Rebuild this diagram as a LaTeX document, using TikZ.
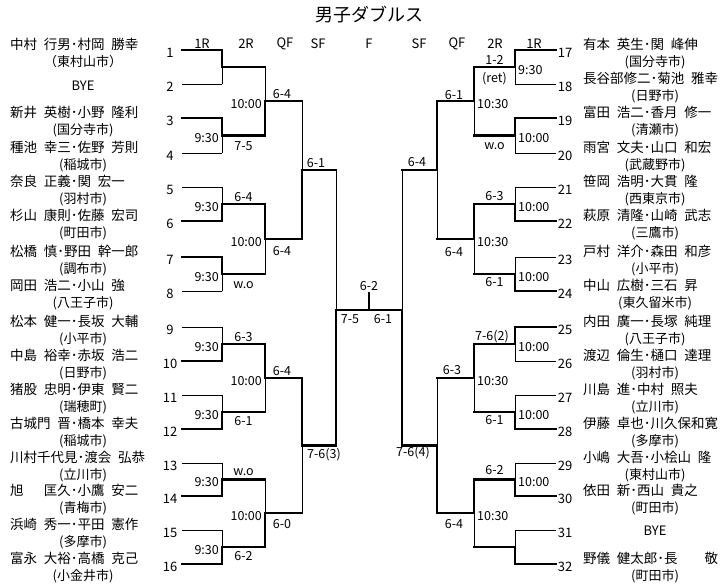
\documentclass[tikz,border=0pt]{standalone}
\usepackage{fontspec}
\setmainfont{Noto Sans CJK JP}
\begin{document}
\begin{tikzpicture}[x=1pt,y=-1pt,
    win/.style={line width=2.4pt,line cap=rect},
    lose/.style={line width=0.9pt},
    seed/.style={font=\fontsize{13}{13}\selectfont,inner sep=0pt},
    pair/.style={font={\fontsize{13.5}{13.5}\selectfont\spaceskip=.5em\relax},inner sep=0pt,anchor=west},
    town/.style={font=\fontsize{13}{13}\selectfont,inner sep=0pt},
    res/.style={font=\fontsize{12.5}{12.5}\selectfont,inner sep=0pt},
    clock/.style={font=\fontsize{12.5}{12.5}\selectfont,inner sep=0pt}]
    \fill[white] (0,0) rectangle (727,587);
    \useasboundingbox (0,0) rectangle (727,587);
    % title
    \node[font=\fontsize{18}{18}\selectfont,inner sep=0pt] (title) at (369,15) {男子ダブルス};
    % rounds
    \foreach \r/\x [count=\i] in {1R/202,2R/246,QF/285,SF/318,F/369,SF/419,QF/457,2R/495,1R/534}
        \node[seed] (rd\i) at (\x,44) {\r};
    % 1R lines, left
    \foreach \y/\w [count=\i] in {50/win,84/lose,118/win,153/lose,187/lose,221/win,257/win,291/lose,
            327/lose,361/win,395/lose,429/win,463/lose,496/win,530/lose,564/win}{
        \node[seed] (s\i) at (170,\y+3) {\i};
        \draw[\w] (182,\y) -- (222,\y);
    }
    % 1R lines, right
    \foreach \y/\w [count=\i from 17] in {50/win,84/lose,118/win,153/lose,187/lose,221/win,257/lose,291/win,
            327/win,361/lose,395/lose,429/win,463/lose,496/win,530/lose,564/win}{
        \node[seed] (s\i) at (565,\y+3) {\i};
        \draw[\w] (515,\y) -- (556,\y);
    }
    % matches: x / next x / top / bottom / winner
    \foreach \x/\nx/\ya/\yb/\yw in {
            222/265/50/84/50, 222/265/118/153/118, 222/265/187/221/221, 222/265/257/291/257,
            222/265/327/361/361, 222/265/395/429/429, 222/265/463/496/496, 222/265/530/564/564,
            265/302/67/135.5/135.5, 265/302/204/274/204, 265/302/344/412/344, 265/302/479.5/547/547,
            302/336/101.25/239/239, 302/336/378/513.25/378,
            515/474/50/84/50, 515/474/118/153/118, 515/474/187/221/221, 515/474/257/291/291,
            515/474/327/361/327, 515/474/395/429/429, 515/474/463/496/496, 515/474/530/564/564,
            474/437/67/135.5/67, 474/437/204/274/204, 474/437/344/412/344, 474/437/479.5/547/479.5,
            437/402/101.25/239/101.25, 437/402/378/513.25/513.25}{
        \draw[lose] (\x,\ya) -- (\x,\yb);
        \draw[win] (\x,\yw) -- (\x,{(\ya+\yb)/2}) -- (\nx,{(\ya+\yb)/2});
    }
    % final
    \draw[lose] (336,170.1) -- (336,445.6);
    \draw[lose] (402,170.1) -- (402,445.6);
    \draw[win] (336,445.6) -- (336,310) -- (402,310) -- (402,445.6);
    \draw[win] (369,310) -- (369,293);
    \node[res] (f1) at (369,286) {6-2};
    \node[res] (f2) at (350,319) {7-5};
    \node[res] (f3) at (383,319) {6-1};
    % times
    \foreach \y [count=\i] in {135.5,204,274,344,412,479.5,547}
        \node[clock,anchor=east] (ta\i) at (219,\y+3) {9:30};
    \foreach \y [count=\i] in {101.25,239,378,513.25}{
        \node[clock,anchor=east] (tb\i) at (262,\y+3) {10:00};
        \node[clock,anchor=west] (tc\i) at (477,\y+3) {10:30};
    }
    \node[clock,anchor=west] (td1) at (518,70) {9:30};
    \foreach \y [count=\i from 2] in {135.5,204,274,344,412,479.5}
        \node[clock,anchor=west] (td\i) at (518,\y+3) {10:00};
    % scores
    \foreach \x/\y/\s [count=\i] in {243.5/146.5/7-5, 243.5/197/6-4, 243.5/285/w.o, 243.5/337/6-3,
            243.5/421/6-1, 243.5/472.5/w.o, 243.5/556/6-2,
            282/94/6-4, 282/251/6-4, 282/371/6-4, 282/524/6-0,
            316/163/6-1, 324/455/7-6(3),
            494.5/60/1-2, 494.5/79/(ret), 494.5/146.5/w.o, 494.5/196/6-3, 494.5/282/6-1,
            492/337/7-6(2), 494.5/420/6-1, 494.5/470/6-2,
            454/95/6-1, 454/252/6-4, 452/370/6-3, 454/524/6-4,
            417/162/6-4, 413/453/7-6(4)}
        \node[res] (sc\i) at (\x,\y) {\s};
    % players, left
    \foreach \i/\y/\p/\c in {1/50/{中村 行男･村岡 勝幸}/{（東村山市）},
            3/118/{新井 英樹･小野 隆利}/{(国分寺市)}, 4/153/{種池 幸三･佐野 芳則}/{(稲城市)},
            5/187/{奈良 正義･関 宏一}/{(羽村市)}, 6/221/{杉山 康則･佐藤 宏司}/{(町田市)},
            7/257/{松橋 慎･野田 幹一郎}/{(調布市)}, 8/291/{岡田 浩二･小山 強}/{(八王子市)},
            9/327/{松本 健一･長坂 大輔}/{(小平市)}, 10/361/{中島 裕幸･赤坂 浩二}/{(日野市)},
            11/395/{猪股 忠明･伊東 賢二}/{(瑞穂町)}, 12/429/{古城門 晋･橋本 幸夫}/{(稲城市)},
            13/463/{川村千代見･渡会 弘恭}/{(立川市)}, 14/496/{旭　 匡久･小鷹 安二}/{(青梅市)},
            15/530/{浜崎 秀一･平田 憲作}/{(多摩市)}, 16/564/{富永 大裕･高橋 克己}/{(小金井市)}}{
        \node[pair] (p\i) at (10,\y-6) {\p};
        \node[town] (c\i) at (83,\y+12) {\c};
    }
    \node[town] (bye2) at (83,86) {BYE};
    % players, right
    \foreach \i/\y/\p/\c in {17/50/{有本 英生･関 峰伸}/{(国分寺市)}, 18/84/{長谷部修二･菊池 雅幸}/{(日野市)},
            19/118/{富田 浩二･香月 修一}/{(清瀬市)}, 20/153/{雨宮 文夫･山口 和宏}/{(武蔵野市)},
            21/187/{笹岡 浩明･大貫 隆}/{(西東京市)}, 22/221/{萩原 清隆･山崎 武志}/{(三鷹市)},
            23/257/{戸村 洋介･森田 和彦}/{(小平市)}, 24/291/{中山 広樹･三石 昇}/{(東久留米市)},
            25/327/{内田 廣一･長塚 純理}/{(八王子市)}, 26/361/{渡辺 倫生･樋口 達理}/{(羽村市)},
            27/395/{川島 進･中村 照夫}/{(立川市)}, 28/429/{伊藤 卓也･川久保和寛}/{(多摩市)},
            29/463/{小嶋 大吾･小桧山 隆}/{(東村山市)}, 30/496/{依田 新･西山 貴之}/{(町田市)},
            32/564/{野儀 健太郎･長　　敬}/{(町田市)}}{
        \node[pair] (p\i) at (583,\y-6) {\p};
        \node[town] (c\i) at (655,\y+12) {\c};
    }
    \node[town] (bye31) at (655,531) {BYE};
\end{tikzpicture}
\end{document}
